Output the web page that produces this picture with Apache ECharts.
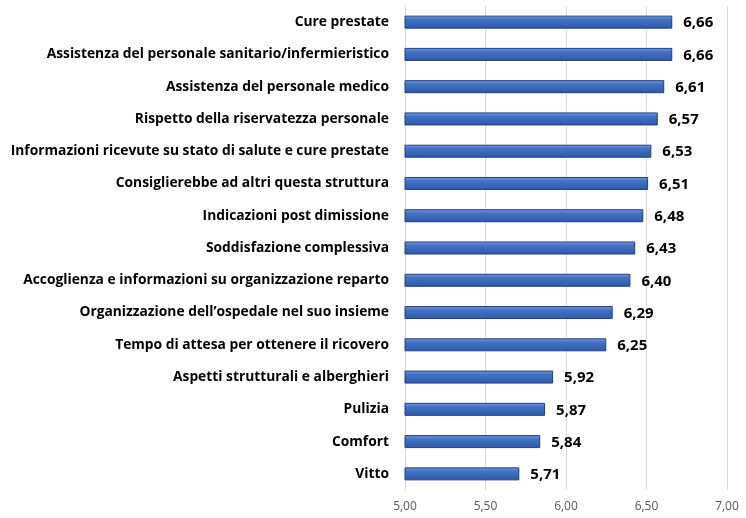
<!DOCTYPE html>
<html>
<head>
<meta charset="utf-8">
<script src="https://cdn.jsdelivr.net/npm/echarts@6/dist/echarts.min.js"></script>
<style>
  html, body { margin: 0; padding: 0; background: #fff; }
  #container { width: 746px; height: 518px; }
</style>
</head>
<body>
<div id="container"></div>
<script>
var categories = [
    'Cure prestate',
    'Assistenza del personale sanitario/infermieristico',
    'Assistenza del personale medico',
    'Rispetto della riservatezza personale',
    'Informazioni ricevute su stato di salute e cure prestate',
    'Consiglierebbe ad altri questa struttura',
    'Indicazioni post dimissione',
    'Soddisfazione complessiva',
    'Accoglienza e informazioni su organizzazione reparto',
    'Organizzazione dell\u2019ospedale nel suo insieme',
    'Tempo di attesa per ottenere il ricovero',
    'Aspetti strutturali e alberghieri',
    'Pulizia',
    'Comfort',
    'Vitto'
];
var scores = [6.66, 6.66, 6.61, 6.57, 6.53, 6.51, 6.48, 6.43, 6.40, 6.29, 6.25, 5.92, 5.87, 5.84, 5.71];

var dom     = document.getElementById('container');
var myChart = echarts.init(dom);

function comma(v) {
    return v.toFixed(2).replace('.', ',');
}

var option = {
    backgroundColor: '#fff',
    animation: false,
    textStyle: { fontFamily: 'Open Sans' },
    grid: { left: 405, right: 19, top: 6, bottom: 28 },
    xAxis: {
        type: 'value',
        min: 5,
        max: 7,
        interval: 0.5,
        axisLine: { show: false },
        axisTick: { show: false },
        splitLine: { lineStyle: { color: '#d9d9d9', width: 1 } },
        axisLabel: {
            color: '#595959',
            fontSize: 12,
            margin: 11,
            formatter: function (v) { return comma(v); }
        }
    },
    yAxis: {
        type: 'category',
        inverse: true,
        data: categories,
        axisLine: { show: true, lineStyle: { color: '#d9d9d9' } },
        axisTick: { show: false },
        axisLabel: {
            color: '#000',
            fontWeight: 'bold',
            fontSize: 13.8,
            margin: 16
        }
    },
    series: [
        {
            type: 'bar',
            data: scores,
            barWidth: 13,
            itemStyle: {
                color: new echarts.graphic.LinearGradient(0, 0, 0, 1, [
                    { offset: 0, color: '#7b9be0' },
                    { offset: 0.3, color: '#4472c4' },
                    { offset: 1, color: '#2f58a8' }
                ]),
                borderColor: '#1f3f7f',
                borderWidth: 1
            },
            label: {
                show: true,
                position: 'right',
                distance: 11,
                offset: [0, 1],
                color: '#000',
                fontWeight: 'bold',
                fontSize: 15,
                formatter: function (p) { return comma(p.value); }
            }
        }
    ]
};

myChart.setOption(option);
</script>
</body>
</html>
